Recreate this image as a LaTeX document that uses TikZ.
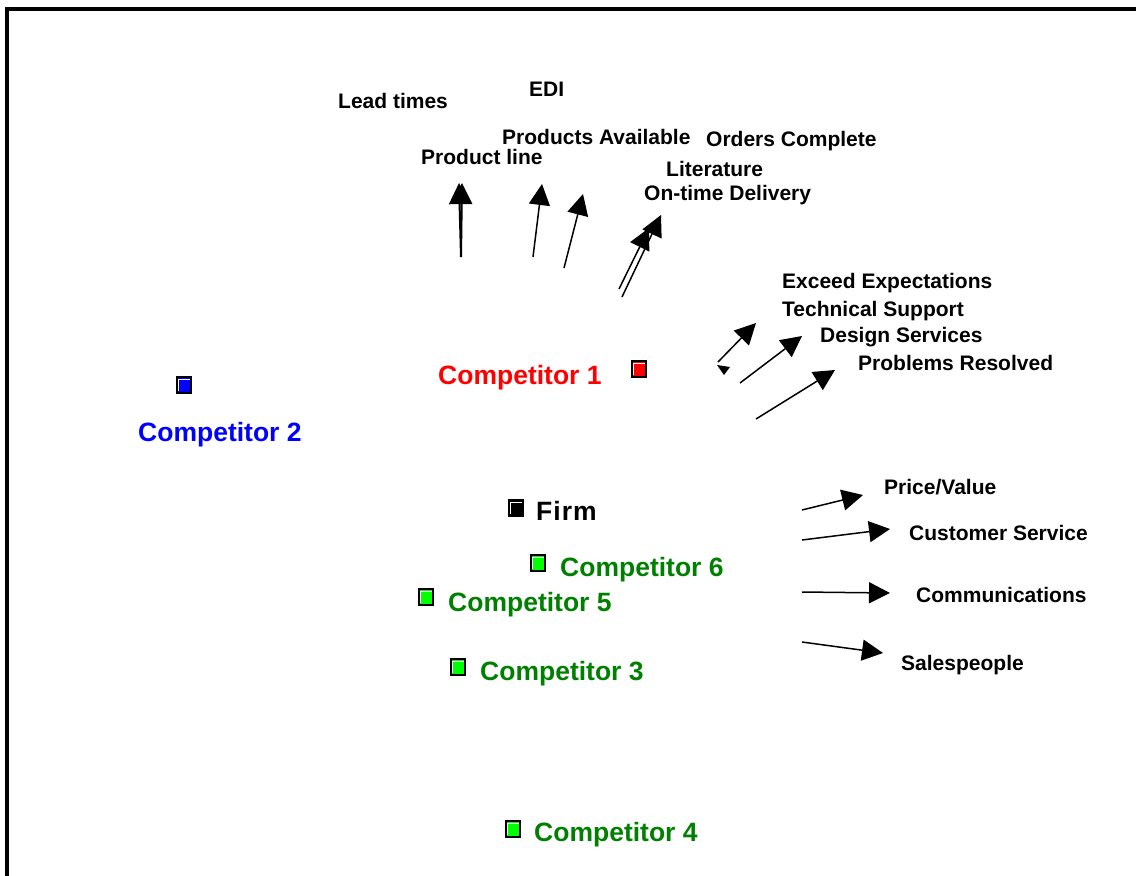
\documentclass[tikz,border=0pt]{standalone}
\usepackage{fontspec}
\setmainfont{Liberation Sans}
\usetikzlibrary{arrows.meta}

\definecolor{txtgreen}{RGB}{0,128,0}
\definecolor{mkgreen}{RGB}{0,255,0}
\definecolor{mkred}{RGB}{255,0,0}
\definecolor{mkblue}{RGB}{0,0,255}

\tikzset{
  attr/.style={anchor=base west, inner sep=0pt, font=\fontsize{21}{25}\selectfont\bfseries},
  brand/.style={anchor=base west, inner sep=0pt, font=\fontsize{26.5}{31}\selectfont\bfseries},
  mark box/.style={rectangle, draw=black, line width=1.6pt, fill=#1,
    minimum width=14.5pt, minimum height=15.5pt, inner sep=0pt,
    path picture={\draw[white, line width=0.9pt]
      ([shift={(1.7pt,1.7pt)}]path picture bounding box.south west) --
      ([shift={(1.7pt,-1.7pt)}]path picture bounding box.north west) --
      ([shift={(-1.7pt,-1.7pt)}]path picture bounding box.north east);}},
  vec/.style={-{Triangle[length=21pt,width=21pt]}, line width=1.5pt, shorten <=0pt},
  vecthick/.style={vec, line width=2pt},
}

\begin{document}
\begin{tikzpicture}[x=1pt, y=-1pt]
\useasboundingbox (0,0) rectangle (1136,876);
\begin{scope}
\clip (0,0) rectangle (1136,876);
% open frame along the top and left edges
\draw[line width=4pt] (1150,8.5) -- (7,8.5) -- (7,890);
\end{scope}

% attribute labels
\node[attr] (lead)  at (338,108) {Lead times};
\node[attr] (edi)   at (529,96)  {EDI};
\node[attr] (avail) at (502,144) {Products Available};
\node[attr] (orders) at (706,146) {Orders Complete};
\node[attr] (pline) at (421,164) {Product line};
\node[attr] (lit)   at (666,176) {Literature};
\node[attr] (ontime) at (644,200) {On-time Delivery};
\node[attr] (exceed) at (782,288) {Exceed Expectations};
\node[attr] (tech)  at (782,316) {Technical Support};
\node[attr] (design) at (820,342) {Design Services};
\node[attr] (probs) at (858,370) {Problems Resolved};
\node[attr] (price) at (884,494) {Price/Value};
\node[attr] (cserv) at (909,540) {Customer Service};
\node[attr] (comms) at (916,602) {Communications};
\node[attr] (sales) at (901,670) {Salespeople};

% firm and competitor positions
\node[mark box=mkred]   (m1) at (639,369) {};
\node[mark box=mkblue]  (m2) at (184,385) {};
\node[mark box=black]   (mf) at (516,508) {};
\node[mark box=mkgreen] (m6) at (538,563) {};
\node[mark box=mkgreen] (m5) at (426,597) {};
\node[mark box=mkgreen] (m3) at (458,667) {};
\node[mark box=mkgreen] (m4) at (513,829) {};

\node[brand, text=mkred]    (c1) at (438,384) {Competitor 1};
\node[brand, text=mkblue]   (c2) at (138,441) {Competitor 2};
\node[brand]                (fm) at (536,520) {F\kern1pt i\kern1pt r\kern1pt m};
\node[brand, text=txtgreen] (c6) at (560,576) {Competitor 6};
\node[brand, text=txtgreen] (c5) at (448,611) {Competitor 5};
\node[brand, text=txtgreen] (c3) at (480,680) {Competitor 3};
\node[brand, text=txtgreen] (c4) at (534,841) {Competitor 4};

% attribute direction vectors: tails and tips
\coordinate (a1s) at (461,257); \coordinate (a1t) at (459,183);
\coordinate (a1u) at (462,183);
\coordinate (a2s) at (533,257); \coordinate (a2t) at (542,184);
\coordinate (a3s) at (564,268); \coordinate (a3t) at (583,194);
\coordinate (a4s) at (619,289); \coordinate (a4t) at (649,228);
\coordinate (a5s) at (622,297); \coordinate (a5t) at (661,215);
\coordinate (b1s) at (718,362); \coordinate (b1t) at (756,323);
\coordinate (b2s) at (740,383); \coordinate (b2t) at (802,336);
\coordinate (b3s) at (756,419); \coordinate (b3t) at (835,370);
\coordinate (d1s) at (802,510); \coordinate (d1t) at (863,495);
\coordinate (d2s) at (802,540); \coordinate (d2t) at (890,529);
\coordinate (d3s) at (802,592); \coordinate (d3t) at (890,593);
\coordinate (d4s) at (802,642); \coordinate (d4t) at (883,653);

\draw[vecthick] (a1s) -- (a1t);
\draw[vecthick] (a1s) -- (a1u);
\draw[vec] (a2s) -- (a2t);
\draw[vec] (a3s) -- (a3t);
\draw[vec] (a4s) -- (a4t);
\draw[vec] (a5s) -- (a5t);
\draw[vec] (b1s) -- (b1t);
\draw[vec] (b2s) -- (b2t);
\draw[vec] (b3s) -- (b3t);
\draw[vec] (d1s) -- (d1t);
\draw[vec] (d2s) -- (d2t);
\draw[vec] (d3s) -- (d3t);
\draw[vec] (d4s) -- (d4t);

% short downward vector head next to the Exceed Expectations tail
\fill (717,365) -- (730,367) -- (724,375) -- cycle;
\end{tikzpicture}
\end{document}
